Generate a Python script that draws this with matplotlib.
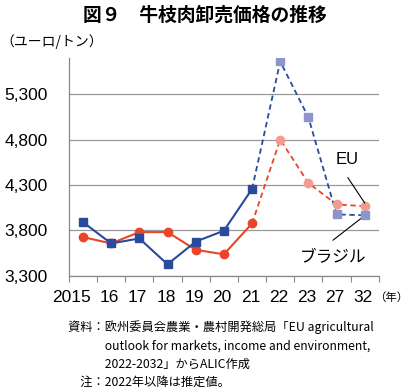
import numpy as np
import matplotlib.pyplot as plt
import matplotlib.transforms as mtransforms
from matplotlib.ticker import FixedLocator, FuncFormatter

plt.rcParams['font.family'] = ['Noto Sans CJK JP', 'DejaVu Sans']

# データ
years = ['2015', '16', '17', '18', '19', '20', '21', '22', '23', '27', '32']
brazil = [3890, 3655, 3710, 3425, 3675, 3795, 4255, 5660, 5045, 3975, 3965]
eu = [3725, 3655, 3780, 3780, 3585, 3535, 3875, 4800, 4320, 4085, 4065]
n_actual = 7  # 2015-2021 は実績、それ以降は推定

blue = '#2a4b9b'
blue_l = '#8d96cc'
red = '#e8462a'
red_l = '#f19c8c'

fig = plt.figure(figsize=(4.10, 3.91), dpi=100)
ax = fig.add_axes([0.168, 0.295, 0.756, 0.557])

x = np.arange(len(years))
k = n_actual - 1

# 実績（実線）
ax.plot(x[:n_actual], eu[:n_actual], color=red, lw=1.5, marker='o', ms=6, zorder=3)
ax.plot(x[:n_actual], brazil[:n_actual], color=blue, lw=1.5, marker='s', ms=6, zorder=4)
# 推定（破線）
ax.plot(x[k:], eu[k:], color=red, lw=1.3, ls=(0, (3, 2)), zorder=2)
ax.plot(x[k:], brazil[k:], color=blue, lw=1.3, ls=(0, (3, 2)), zorder=2)
ax.plot(x[n_actual:], eu[n_actual:], ls='none', marker='o', ms=6, color=red_l, zorder=3)
ax.plot(x[n_actual:], brazil[n_actual:], ls='none', marker='s', ms=6, color=blue_l, zorder=4)

ax.set_xlim(-0.5, len(years) - 0.5)
ax.set_ylim(3300, 5700)
ax.set_yticks([3300, 3800, 4300, 4800, 5300])
ax.yaxis.set_major_formatter(FuncFormatter(lambda v, p: f'{int(v):,}'))
ax.set_xticks(x)
ax.set_xticklabels(years)
ax.xaxis.set_minor_locator(FixedLocator(np.arange(-0.5, len(years), 1)))
ax.tick_params(axis='x', which='major', length=0, labelsize=12.5, pad=10)
ax.tick_params(axis='x', which='minor', length=4, color='#888888', width=0.8)
ax.tick_params(axis='y', length=0, labelsize=12.5, pad=15)
shift = mtransforms.ScaledTranslation(8 / 100, 0, fig.dpi_scale_trans)
for lab in ax.get_xticklabels():
    lab.set_horizontalalignment('right')
    lab.set_transform(lab.get_transform() + shift)
for lab in ax.get_xticklabels() + ax.get_yticklabels():
    lab.set_fontfamily(['Liberation Sans', 'DejaVu Sans'])

ax.grid(axis='y', color='#999999', lw=0.9)
ax.set_axisbelow(True)
for s in ['top', 'right']:
    ax.spines[s].set_visible(False)
for s in ['left', 'bottom']:
    ax.spines[s].set_color('#888888')
    ax.spines[s].set_linewidth(0.9)

# 系列名と引き出し線
ax.text(9.37, 4580, 'EU', fontsize=12, ha='center', va='center',
        family=['Liberation Sans', 'DejaVu Sans'])
ax.annotate('', xy=(10.0, 4100), xytext=(9.4, 4380),
            arrowprops=dict(arrowstyle='-', color='black', lw=0.8, shrinkA=0, shrinkB=0))
ax.text(8.87, 3495, 'ブラジル', fontsize=12, ha='center', va='center')
ax.annotate('', xy=(10.05, 3975), xytext=(8.87, 3690),
            arrowprops=dict(arrowstyle='-', color='black', lw=0.8, shrinkA=0, shrinkB=0))

fig.text(0.5, 0.962, '図９　牛枝肉卸売価格の推移', ha='center', va='center',
         fontsize=13.5, fontweight='bold')
fig.text(0.0, 0.895, '（ユーロ/トン）', ha='left', va='center', fontsize=10)
fig.text(0.913, 0.240, '（年）', ha='left', va='center', fontsize=8.2)

notes = ['資料：欧州委員会農業・農村開発総局「EU agricultural',
         '　　　outlook for markets, income and environment,',
         '　　　2022-2032」からALIC作成',
         '　注：2022年以降は推定値。']
for i, t in enumerate(notes):
    fig.text(0.166, 0.163 - i * 0.047, t, ha='left', va='center', fontsize=8.8)

fig.savefig('out.png', dpi=100)
